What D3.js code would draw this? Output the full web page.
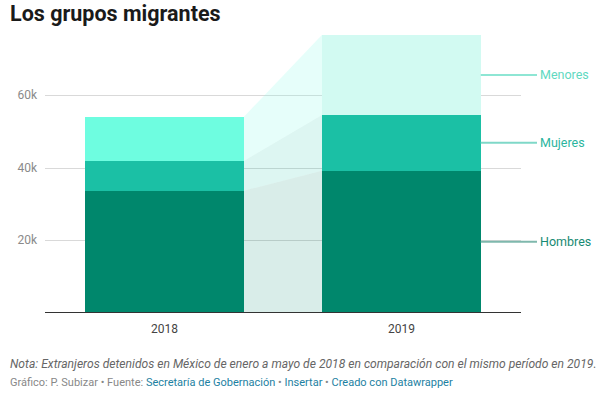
<!DOCTYPE html>
<html><head><meta charset="utf-8">
<script src="https://cdn.jsdelivr.net/npm/d3@7"></script>
<style>
body{margin:0;background:#fff;font-family:Roboto,"Noto Sans",sans-serif;}
svg{display:block}
</style></head><body>
<svg id="c" width="614" height="398"></svg>
<script>
const years = ["2018","2019"];
const seriesNames = ["Hombres","Mujeres","Menores"];
const hombres = [33600, 39100];
const mujeres = [8200, 15400];
const menores = [12200, 22100];
const yTicks = [20000, 40000, 60000];
const yTickLabels = ["20k","40k","60k"];

const barColors = {
  Hombres: ["#00876c","#00876c"],
  Mujeres: ["#1bc0a5","#1bc0a5"],
  Menores: ["#6efde0","#d2faf2"]
};
const linkColors = {Hombres:"#00876c", Mujeres:"#1bc0a5", Menores:"#8ffbe6"};
const labelColors = {Hombres:"#178a73", Mujeres:"#2bb59e", Menores:"#5fd9c1"};
const labelLineColors = {Hombres:"#7fb8ad", Mujeres:"#7fd8c8", Menores:"#8ee6d4"};

const svg = d3.select("#c");
const x = d3.scaleBand().domain(years).range([45, 521]).paddingInner(0.33).paddingOuter(0.17);
const y = d3.scaleLinear().domain([0, 60000]).range([312.5, 95]);

const rows = years.map((yr,i)=>({year:yr, Hombres:hombres[i], Mujeres:mujeres[i], Menores:menores[i]}));
const stack = d3.stack().keys(seriesNames)(rows);

svg.append("text").attr("x",10).attr("y",21).attr("font-size",21.5).attr("font-weight",700)
  .attr("fill","#1a1a1a").text("Los grupos migrantes");

// grid
const grid = svg.append("g");
yTicks.forEach((t,i)=>{
  grid.append("line").attr("x1",45).attr("x2",521).attr("y1",Math.round(y(t))+0.5).attr("y2",Math.round(y(t))+0.5)
    .attr("stroke","#d9d9d9").attr("stroke-width",1);
  grid.append("text").attr("x",37).attr("y",y(t)+4).attr("text-anchor","end").attr("font-size",12)
    .attr("fill","#8a8a8a").text(yTickLabels[i]);
});

// connectors
const x0r = x("2018")+x.bandwidth(), x1l = x("2019");
stack.forEach(layer=>{
  const a = layer[0], b = layer[1];
  svg.append("path")
    .attr("d", `M${x0r},${y(a[0])}L${x0r},${y(a[1])}L${x1l},${y(b[1])}L${x1l},${y(b[0])}Z`)
    .attr("fill", linkColors[layer.key]).attr("fill-opacity", layer.key==="Menores"?0.22:0.15);
});

// bars
stack.forEach(layer=>{
  layer.forEach((d,i)=>{
    const y1 = Math.round(y(d[1])), y0 = Math.round(y(d[0]));
    svg.append("rect").attr("x",Math.round(x(years[i]))).attr("width",Math.round(x.bandwidth()))
      .attr("y",y1).attr("height",y0-y1)
      .attr("fill",barColors[layer.key][i]).attr("shape-rendering","crispEdges");
  });
});

// baseline
svg.append("line").attr("x1",45).attr("x2",521).attr("y1",312.5).attr("y2",312.5)
  .attr("stroke","#333").attr("stroke-width",1);

// x labels
years.forEach(yr=>{
  svg.append("text").attr("x",x(yr)+x.bandwidth()/2).attr("y",333).attr("text-anchor","middle")
    .attr("font-size",12).attr("fill","#444").text(yr);
});

// series labels
const xr = x("2019")+x.bandwidth();
stack.forEach(layer=>{
  const d = layer[1];
  const ym = (y(d[0])+y(d[1]))/2;
  svg.append("line").attr("x1",xr).attr("x2",537).attr("y1",ym).attr("y2",ym)
    .attr("stroke",labelLineColors[layer.key]).attr("stroke-width",2);
  svg.append("text").attr("x",540).attr("y",ym+4.5).attr("font-size",12.5)
    .attr("fill",labelColors[layer.key]).text(layer.key);
});

// notes
svg.append("text").attr("x",10).attr("y",368).attr("font-size",12.1).attr("font-style","italic")
  .attr("fill","#666").text("Nota: Extranjeros detenidos en México de enero a mayo de 2018 en comparación con el mismo período en 2019.");
const cr = svg.append("text").attr("x",10).attr("y",386).attr("font-size",11).attr("fill","#888");
cr.append("tspan").text("Gráfico: P. Subizar • Fuente: ");
cr.append("tspan").attr("fill","#1d81a2").text("Secretaría de Gobernación");
cr.append("tspan").text(" • ");
cr.append("tspan").attr("fill","#1d81a2").text("Insertar");
cr.append("tspan").text(" • ");
cr.append("tspan").attr("fill","#1d81a2").text("Creado con Datawrapper");
</script></body></html>
